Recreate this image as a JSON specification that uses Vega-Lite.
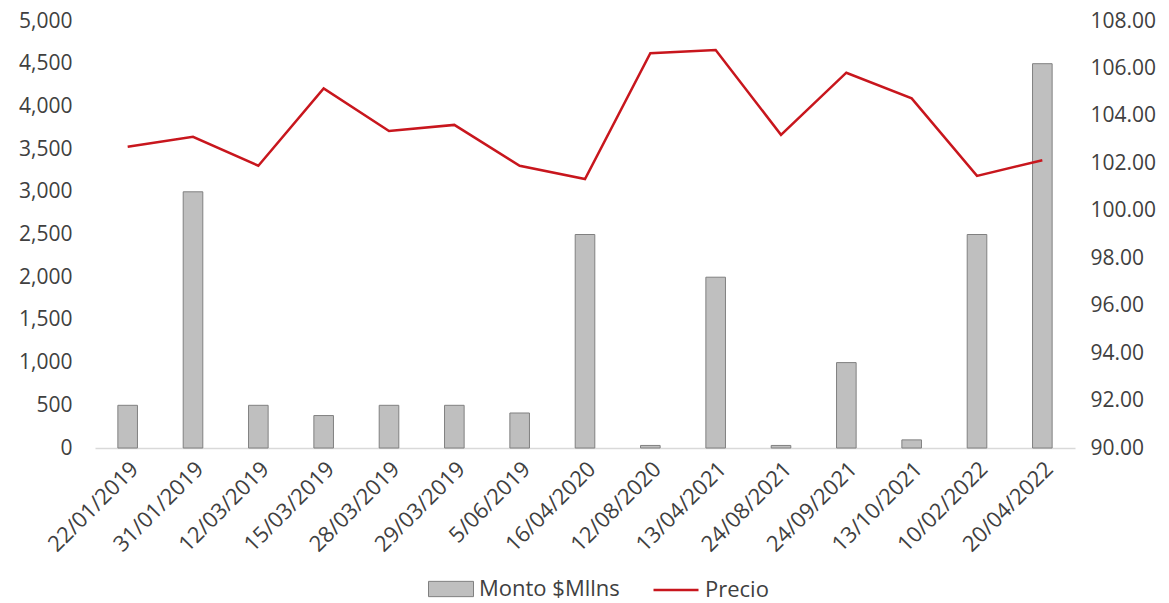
{
  "$schema": "https://vega.github.io/schema/vega-lite/v6.json",
  "width": 980,
  "height": 427,
  "autosize": {"type": "none"},
  "padding": {"left": 95, "top": 21, "right": 94, "bottom": 155},
  "background": "white",
  "config": {
    "font": "Open Sans",
    "view": {"stroke": null},
    "axis": {
      "grid": false,
      "ticks": false,
      "domain": false,
      "title": null,
      "labelFontSize": 21,
      "labelColor": "#404040"
    },
    "legend": {"labelFontSize": 22, "labelColor": "#404040", "title": null}
  },
  "data": {
    "values": [
      {"fecha": "22/01/2019", "monto": 500, "precio": 102.70},
      {"fecha": "31/01/2019", "monto": 3000, "precio": 103.12},
      {"fecha": "12/03/2019", "monto": 500, "precio": 101.90},
      {"fecha": "15/03/2019", "monto": 380, "precio": 105.16},
      {"fecha": "28/03/2019", "monto": 500, "precio": 103.36},
      {"fecha": "29/03/2019", "monto": 500, "precio": 103.62},
      {"fecha": "5/06/2019", "monto": 410, "precio": 101.90},
      {"fecha": "16/04/2020", "monto": 2500, "precio": 101.34},
      {"fecha": "12/08/2020", "monto": 30, "precio": 106.64},
      {"fecha": "13/04/2021", "monto": 2000, "precio": 106.78},
      {"fecha": "24/08/2021", "monto": 30, "precio": 103.20},
      {"fecha": "24/09/2021", "monto": 1000, "precio": 105.82},
      {"fecha": "13/10/2021", "monto": 95, "precio": 104.74},
      {"fecha": "10/02/2022", "monto": 2500, "precio": 101.47},
      {"fecha": "20/04/2022", "monto": 4500, "precio": 102.13}
    ]
  },
  "encoding": {
    "x": {
      "field": "fecha",
      "type": "nominal",
      "sort": null,
      "scale": {"paddingInner": 0.7, "paddingOuter": 0.35},
      "axis": {
        "labelAngle": -45,
        "domain": true,
        "domainColor": "#d9d9d9",
        "domainWidth": 1.5,
        "labelPadding": 10,
        "labelFontSize": 22
      }
    }
  },
  "layer": [
    {
      "mark": {"type": "bar", "stroke": "#808080", "strokeWidth": 1},
      "encoding": {
        "y": {
          "field": "monto",
          "type": "quantitative",
          "scale": {"domain": [0, 5000]},
          "axis": {
            "orient": "left",
            "values": [0, 500, 1000, 1500, 2000, 2500, 3000, 3500, 4000, 4500, 5000],
            "format": ",.0f",
            "labelPadding": 23
          }
        },
        "fill": {
          "datum": "Monto $Mllns",
          "scale": {"range": ["#bfbfbf"]},
          "legend": {
            "orient": "none",
            "legendX": 333,
            "legendY": 545,
            "symbolType": "M-1,-0.34L1,-0.34L1,0.34L-1,0.34Z",
            "symbolSize": 2025,
            "symbolStrokeColor": "#808080",
            "symbolStrokeWidth": 1,
            "labelOffset": 5
          }
        }
      }
    },
    {
      "mark": {"type": "line", "strokeWidth": 2.5},
      "encoding": {
        "y": {
          "field": "precio",
          "type": "quantitative",
          "scale": {"domain": [90, 108], "zero": false},
          "axis": {
            "orient": "right",
            "values": [90, 92, 94, 96, 98, 100, 102, 104, 106, 108],
            "format": ".2f",
            "labelPadding": 15
          }
        },
        "stroke": {
          "datum": "Precio",
          "scale": {"range": ["#c8161d"]},
          "legend": {
            "orient": "none",
            "legendX": 557,
            "legendY": 545,
            "symbolType": "stroke",
            "symbolSize": 2025,
            "symbolStrokeWidth": 2.5,
            "labelOffset": 5
          }
        }
      }
    }
  ],
  "resolve": {"scale": {"y": "independent"}}
}
